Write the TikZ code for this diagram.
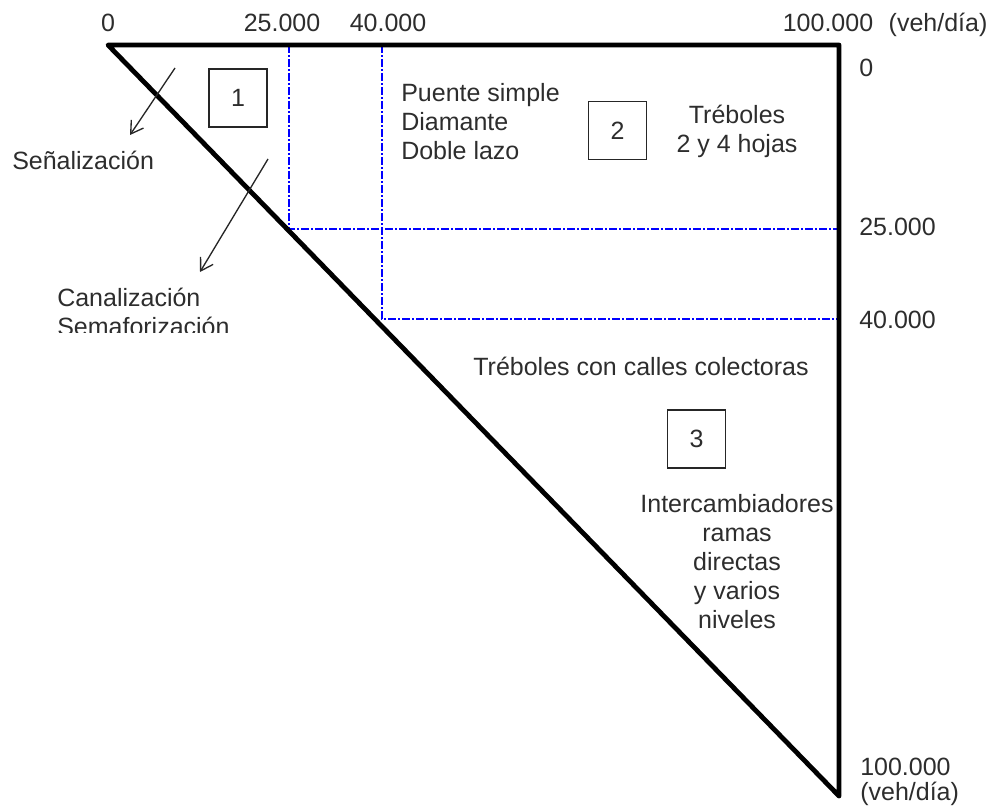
\documentclass[tikz,border=0pt]{standalone}
\usepackage{fontspec}
\setmainfont{Liberation Sans}
\usepackage{tikz}
\usetikzlibrary{arrows.meta}
\definecolor{txtgray}{RGB}{45,45,45}

\begin{document}
\begin{tikzpicture}[x=0.75pt,y=0.75pt,yscale=-1,xscale=1,
  lbl/.style={inner sep=0pt,text=txtgray,font=\fontsize{18.75}{21.75}\selectfont},
  numbox/.style={draw=black!85,line width=1.1pt,minimum size=43.5pt,inner sep=0pt,text=txtgray,font=\fontsize{18.75}{21.75}\selectfont},
  limite/.style={line width=3.6pt,line join=round,line cap=round},
  zona/.style={draw={rgb, 255:red, 0; green, 0; blue, 255 },line width=1.6pt,dash pattern=on 6pt off 1.5pt on 1.5pt off 1.5pt},
  flecha/.style={draw=black!85,line width=1pt,-{Straight Barb[length=9pt,width=11pt]}}]
\useasboundingbox (0,0) rectangle (994,809);

%Shape: corners of the triangle
\coordinate (o) at (108,45);
\coordinate (tr) at (839,45);
\coordinate (br) at (839,796);
%Straight Lines: zone limits
\coordinate (z1a) at (289,45);
\coordinate (z1b) at (289,229);
\coordinate (z1c) at (839,229);
\coordinate (z2a) at (382,45);
\coordinate (z2b) at (382,319);
\coordinate (z2c) at (839,319);
\draw [zona] (z1a) -- (z1b) -- (z1c);
\draw [zona] (z2a) -- (z2b) -- (z2c);
%Shape: Triangle
\draw [limite] (br) -- (o) -- (tr) -- (br);

%Straight Lines: arrows
\coordinate (a1s) at (175,68);
\coordinate (a1e) at (130,135);
\coordinate (a2s) at (268,159);
\coordinate (a2e) at (200,272);
\draw [flecha] (a1s) -- (a1e);
\draw [flecha] (a2s) -- (a2e);

% Text Node
\node [numbox] (zona1) at (238,98) {1};
% Text Node
\node [numbox] (zona2) at (617.5,130.5) {2};
% Text Node
\node [numbox] (zona3) at (696.5,439) {3};

% Text Node: top scale
\node [lbl,anchor=base] (top0) at (108,32) {0};
\node [lbl,anchor=base] (top25) at (282,32) {25.000};
\node [lbl,anchor=base] (top40) at (388,32) {40.000};
\node [lbl,anchor=base] (top100) at (828,32) {100.000};
\node [lbl,anchor=base] (topunit) at (938,32) {(veh/día)};
% Text Node: right scale
\node [lbl,anchor=base west] (der0) at (859,77) {0};
\node [lbl,anchor=base west] (der25) at (859,235) {25.000};
\node [lbl,anchor=base west] (der40) at (859,328) {40.000};
\node [lbl,anchor=west,align=left] (der100) at (860,782) {100.000\\[-3pt](veh/día)};

% Text Node
\node [lbl,anchor=base west] (sen) at (12,170) {Señalización};
% Text Node
\begin{scope}
\clip (0,270) rectangle (330,332);
\node [lbl,anchor=west,align=left] (can) at (57,312) {Canalización\\Semaforización};
\end{scope}
% Text Node
\node [lbl,anchor=west,align=left] (puente) at (401,122) {Puente simple\\Diamante\\Doble lazo};
% Text Node
\node [lbl,align=center] (trebol) at (737,131) {Tréboles\\2 y 4 hojas};
% Text Node
\node [lbl,anchor=base] (colect) at (641,375) {Tréboles con calles colectoras};
% Text Node
\node [lbl,align=center] (inter) at (737,562) {Intercambiadores\\ramas\\directas\\y varios\\niveles};

\end{tikzpicture}
\end{document}
